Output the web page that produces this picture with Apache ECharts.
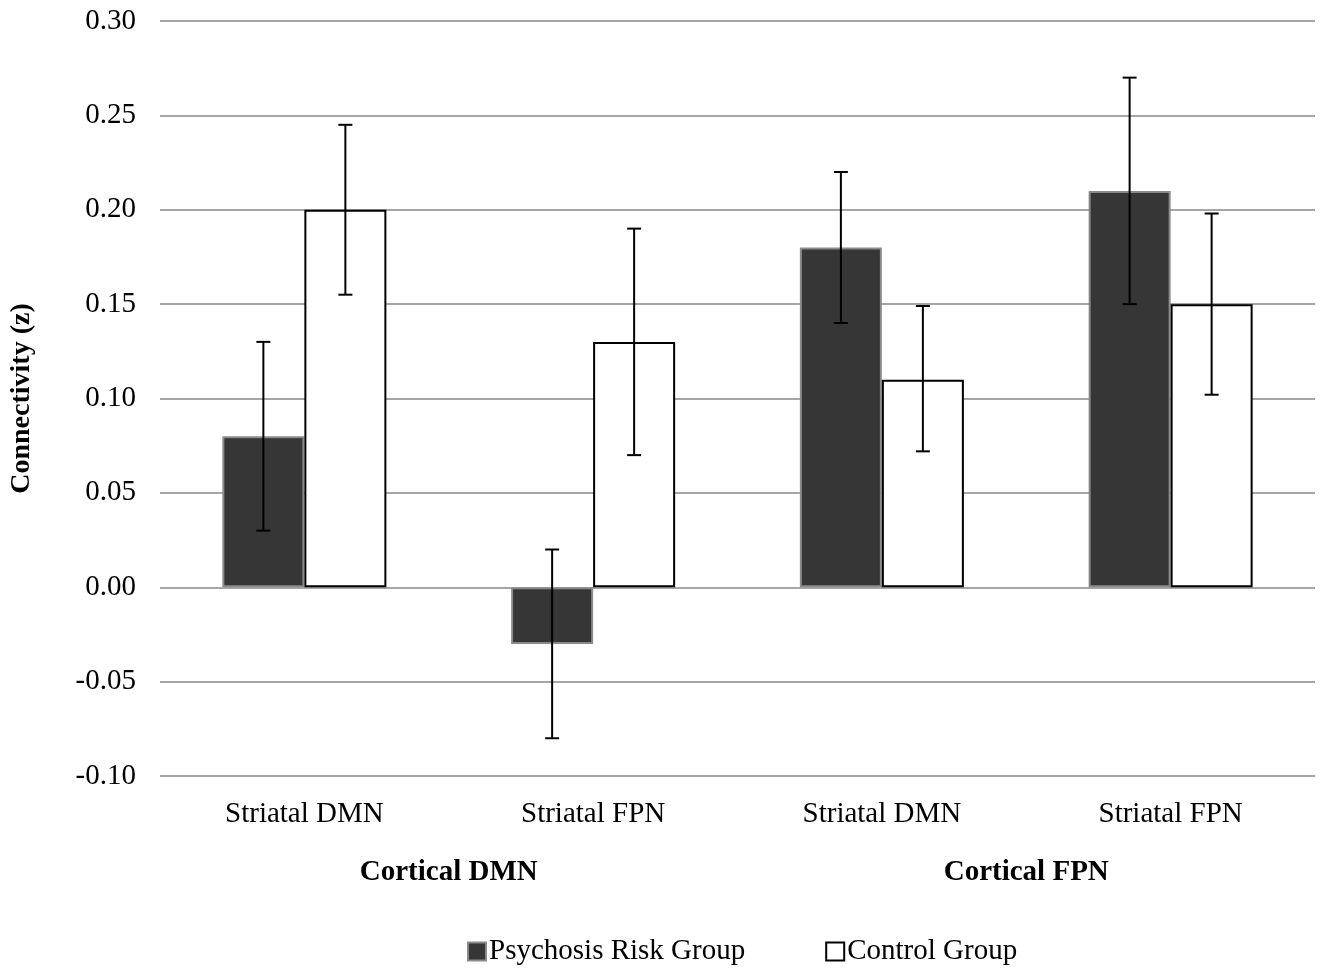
<!DOCTYPE html>
<html>
<head>
<meta charset="utf-8">
<script src="https://cdn.jsdelivr.net/npm/echarts@6/dist/echarts.min.js"></script>
<style>
html,body{margin:0;padding:0;background:#fff;}
#c{width:1324px;height:971px;}
</style>
</head>
<body>
<div id="c"></div>
<script>
var categories = ['Striatal DMN', 'Striatal FPN', 'Striatal DMN', 'Striatal FPN'];
var groups = ['Cortical DMN', 'Cortical FPN'];
var seriesNames = ['Psychosis Risk Group', 'Control Group'];
var riskValues = [0.08, -0.03, 0.18, 0.21];
var riskLow = [0.03, -0.08, 0.14, 0.15];
var riskHigh = [0.13, 0.02, 0.22, 0.27];
var controlValues = [0.20, 0.13, 0.11, 0.15];
var controlLow = [0.155, 0.07, 0.072, 0.102];
var controlHigh = [0.245, 0.19, 0.149, 0.198];
var yTicks = [-0.10, -0.05, 0.00, 0.05, 0.10, 0.15, 0.20, 0.25, 0.30];

var FONT = 'Liberation Serif';
var BAR_FRAC = 0.284;

function errData(low, high) {
  return categories.map(function (c, i) { return [i, low[i], high[i]]; });
}
function errRender(side) {
  return function (params, api) {
    var x = api.value(0);
    var lo = api.coord([x, api.value(1)]);
    var hi = api.coord([x, api.value(2)]);
    var band = api.size([1, 0])[0];
    var cx = lo[0] + side * band * BAR_FRAC / 2;
    var cap = 7;
    var style = { stroke: '#000', lineWidth: 2 };
    return {
      type: 'group',
      children: [
        { type: 'line', shape: { x1: cx, y1: hi[1], x2: cx, y2: lo[1] }, style: style },
        { type: 'line', shape: { x1: cx - cap, y1: hi[1], x2: cx + cap, y2: hi[1] }, style: style },
        { type: 'line', shape: { x1: cx - cap, y1: lo[1], x2: cx + cap, y2: lo[1] }, style: style }
      ]
    };
  };
}

var chart = echarts.init(document.getElementById('c'));
chart.setOption({
  backgroundColor: '#fff',
  animation: false,
  textStyle: { fontFamily: FONT },
  grid: { left: 160, right: 9, top: 21, bottom: 195 },
  legend: {
    data: seriesNames,
    bottom: 0,
    left: 462,
    icon: 'rect',
    itemWidth: 18,
    itemHeight: 18,
    itemGap: 80,
    textStyle: { fontFamily: FONT, fontSize: 29, color: '#000', padding: [0, 0, 0, -2] }
  },
  xAxis: [
    {
      type: 'category',
      data: categories,
      axisLine: { show: false },
      axisTick: { show: false },
      axisLabel: { fontFamily: FONT, fontSize: 29, color: '#000', margin: 24, interval: 0 }
    },
    {
      type: 'category',
      data: groups,
      position: 'bottom',
      offset: 58,
      axisLine: { show: false },
      axisTick: { show: false },
      axisLabel: { fontFamily: FONT, fontSize: 29, fontWeight: 'bold', color: '#000', margin: 24 }
    }
  ],
  yAxis: {
    type: 'value',
    min: -0.10,
    max: 0.30,
    interval: 0.05,
    name: 'Connectivity (z)',
    nameLocation: 'middle',
    nameGap: 124,
    nameTextStyle: { fontFamily: FONT, fontSize: 28, fontWeight: 'bold', color: '#000' },
    axisLine: { show: false },
    axisTick: { show: false },
    axisLabel: {
      fontFamily: FONT, fontSize: 29, color: '#000', margin: 24,
      formatter: function (v) { return v.toFixed(2); }
    },
    splitLine: { lineStyle: { color: '#a6a6a6', width: 2 } }
  },
  series: [
    {
      name: seriesNames[0],
      type: 'bar',
      data: riskValues,
      barWidth: (BAR_FRAC * 100) + '%',
      barGap: '0%',
      itemStyle: { color: '#363636', borderColor: '#8a8a8a', borderWidth: 2 }
    },
    {
      name: seriesNames[1],
      type: 'bar',
      data: controlValues,
      barWidth: (BAR_FRAC * 100) + '%',
      barGap: '0%',
      itemStyle: { color: '#ffffff', borderColor: '#000000', borderWidth: 2 }
    },
    {
      type: 'custom',
      data: errData(riskLow, riskHigh),
      renderItem: errRender(-1),
      encode: { x: 0, y: [1, 2] },
      z: 10
    },
    {
      type: 'custom',
      data: errData(controlLow, controlHigh),
      renderItem: errRender(1),
      encode: { x: 0, y: [1, 2] },
      z: 10
    }
  ]
});
</script>
</body>
</html>
